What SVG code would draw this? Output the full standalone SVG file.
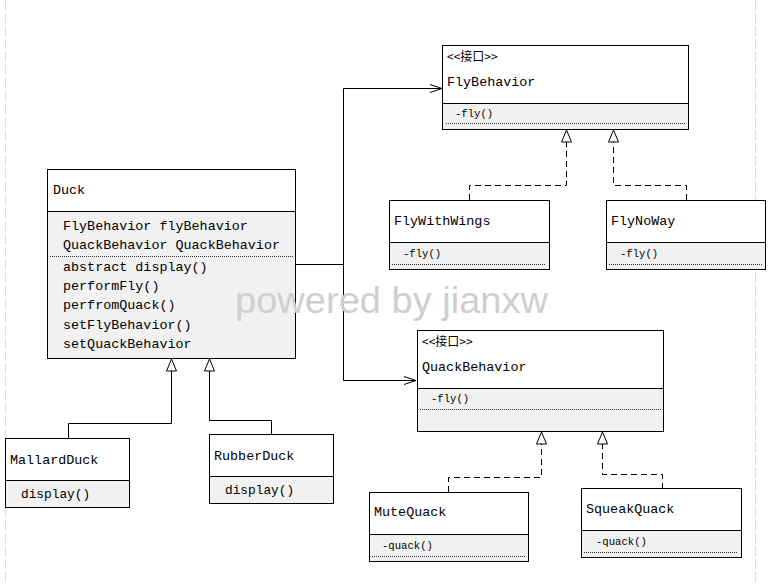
<svg xmlns="http://www.w3.org/2000/svg" width="770" height="585" viewBox="0 0 770 585">
<style>
.page{stroke:#dcdcdc;stroke-width:1;stroke-dasharray:10,3;fill:none}
.hd{fill:#ffffff;stroke:none}
.bd{fill:#f1f1f1;stroke:none}
.frame{fill:none;stroke:#000;stroke-width:1}
.sep{stroke:#000;stroke-width:1}
.dot{stroke:#333;stroke-width:1;stroke-dasharray:1,1}
.nm{font-family:"Liberation Mono",monospace;font-size:13.4px;fill:#000}
.mt{font-family:"Liberation Mono",monospace;font-size:10.6px;fill:#000}
.mb{font-family:"Liberation Mono",monospace;font-size:12.8px;fill:#000}
.st{font-family:"Noto Sans CJK SC",sans-serif;font-size:12px;fill:#000}
.ln{fill:none;stroke:#000;stroke-width:1}
.dl{fill:none;stroke:#000;stroke-width:1;stroke-dasharray:6,4}
.tri{fill:#fff;stroke:#000;stroke-width:1}
.wm{font-family:"Liberation Sans",sans-serif;font-size:36px;fill:#cfcfcf}
</style>
<defs>
<marker id="open" markerWidth="14" markerHeight="10" refX="13" refY="5" orient="auto" markerUnits="userSpaceOnUse">
<path d="M1,1 L13,5 L1,9" fill="none" stroke="#000" stroke-width="1"/>
</marker>
<marker id="tri" markerWidth="12" markerHeight="14" refX="6" refY="1" orient="auto-start-reverse" markerUnits="userSpaceOnUse">
<path d="M6,1 L11,13 L1,13 Z" class="tri"/>
</marker>
</defs>
<rect width="770" height="585" fill="#fff"/>
<line class="page" x1="5.5" y1="0" x2="5.5" y2="585"/>
<line class="page" x1="755.5" y1="0" x2="755.5" y2="585"/>

<g id="connectors">
<polyline class="ln" points="295,264.5 343.5,264.5"/>
<polyline class="ln" points="343.5,264.5 343.5,88.5 442,88.5" marker-end="url(#open)"/>
<polyline class="ln" points="343.5,264.5 343.5,380.5 416,380.5" marker-end="url(#open)"/>
<polyline class="ln" points="68.5,438 68.5,423.5 171.5,423.5 171.5,371"/>
<path class="tri" d="M171.5,359 L176.5,371 L166.5,371 Z"/>
<polyline class="ln" points="271.5,434 271.5,420.5 209.5,420.5 209.5,371"/>
<path class="tri" d="M209.5,359 L214.5,371 L204.5,371 Z"/>
<polyline class="dl" points="469.5,200 469.5,185.5 566.5,185.5 566.5,142"/>
<path class="tri" d="M566.5,130 L571.5,142 L561.5,142 Z"/>
<polyline class="dl" points="686.5,200 686.5,185.5 613.5,185.5 613.5,142"/>
<path class="tri" d="M613.5,130 L618.5,142 L608.5,142 Z"/>
<polyline class="dl" points="448.5,492 448.5,477.5 541.5,477.5 541.5,444"/>
<path class="tri" d="M541.5,432 L546.5,444 L536.5,444 Z"/>
<polyline class="dl" points="662.5,489 662.5,474.5 602.5,474.5 602.5,444"/>
<path class="tri" d="M602.5,432 L607.5,444 L597.5,444 Z"/>
</g>

<g id="FlyBehavior">
<rect class="hd" x="442.5" y="45.5" width="246" height="58"/>
<rect class="bd" x="442.5" y="103.5" width="246" height="26"/>
<rect class="frame" x="442.5" y="45.5" width="246" height="84"/>
<line class="sep" x1="442.5" y1="103.5" x2="688.5" y2="103.5"/>
<line class="dot" x1="446" y1="123.5" x2="686" y2="123.5"/>
<text class="st" x="447" y="61">&lt;&lt;接口&gt;&gt;</text>
<text class="nm" x="447" y="86">FlyBehavior</text>
<text class="mt" x="455" y="117">-fly()</text>
</g>

<g id="Duck">
<rect class="hd" x="47.5" y="169.5" width="248" height="42"/>
<rect class="bd" x="47.5" y="211.5" width="248" height="147"/>
<rect class="frame" x="47.5" y="169.5" width="248" height="189"/>
<line class="sep" x1="47.5" y1="211.5" x2="295.5" y2="211.5"/>
<line class="dot" x1="50" y1="256.5" x2="293" y2="256.5"/>
<text class="nm" x="53" y="194">Duck</text>
<text class="nm" x="63" y="230">FlyBehavior flyBehavior</text>
<text class="nm" x="63" y="249">QuackBehavior QuackBehavior</text>
<text class="nm" x="63" y="271">abstract display()</text>
<text class="nm" x="63" y="290">performFly()</text>
<text class="nm" x="63" y="309">perfromQuack()</text>
<text class="nm" x="63" y="329">setFlyBehavior()</text>
<text class="nm" x="63" y="348">setQuackBehavior</text>
</g>

<g id="FlyWithWings">
<rect class="hd" x="389.5" y="200.5" width="160" height="42"/>
<rect class="bd" x="389.5" y="242.5" width="160" height="27"/>
<rect class="frame" x="389.5" y="200.5" width="160" height="69"/>
<line class="sep" x1="389.5" y1="242.5" x2="549.5" y2="242.5"/>
<line class="dot" x1="392" y1="264.5" x2="546" y2="264.5"/>
<text class="nm" x="394" y="225">FlyWithWings</text>
<text class="mt" x="403" y="257">-fly()</text>
</g>

<g id="FlyNoWay">
<rect class="hd" x="606.5" y="200.5" width="159" height="42"/>
<rect class="bd" x="606.5" y="242.5" width="159" height="27"/>
<rect class="frame" x="606.5" y="200.5" width="159" height="69"/>
<line class="sep" x1="606.5" y1="242.5" x2="765.5" y2="242.5"/>
<line class="dot" x1="609" y1="264.5" x2="763" y2="264.5"/>
<text class="nm" x="611" y="225">FlyNoWay</text>
<text class="mt" x="620" y="257">-fly()</text>
</g>

<g id="QuackBehavior">
<rect class="hd" x="417.5" y="330.5" width="246" height="58"/>
<rect class="bd" x="417.5" y="388.5" width="246" height="43"/>
<rect class="frame" x="417.5" y="330.5" width="246" height="101"/>
<line class="sep" x1="417.5" y1="388.5" x2="663.5" y2="388.5"/>
<line class="dot" x1="420" y1="409.5" x2="661" y2="409.5"/>
<text class="st" x="422" y="346">&lt;&lt;接口&gt;&gt;</text>
<text class="nm" x="422" y="371">QuackBehavior</text>
<text class="mt" x="431" y="402">-fly()</text>
</g>

<g id="MallardDuck">
<rect class="hd" x="5.5" y="438.5" width="124" height="42"/>
<rect class="bd" x="5.5" y="480.5" width="124" height="27"/>
<rect class="frame" x="5.5" y="438.5" width="124" height="69"/>
<line class="sep" x1="5.5" y1="480.5" x2="129.5" y2="480.5"/>
<text class="nm" x="10" y="464">MallardDuck</text>
<text class="mb" x="21" y="498">display()</text>
</g>

<g id="RubberDuck">
<rect class="hd" x="209.5" y="434.5" width="124" height="42"/>
<rect class="bd" x="209.5" y="476.5" width="124" height="27"/>
<rect class="frame" x="209.5" y="434.5" width="124" height="69"/>
<line class="sep" x1="209.5" y1="476.5" x2="333.5" y2="476.5"/>
<text class="nm" x="214" y="460">RubberDuck</text>
<text class="mb" x="225" y="494">display()</text>
</g>

<g id="MuteQuack">
<rect class="hd" x="369.5" y="492.5" width="159" height="42"/>
<rect class="bd" x="369.5" y="534.5" width="159" height="27"/>
<rect class="frame" x="369.5" y="492.5" width="159" height="69"/>
<line class="sep" x1="369.5" y1="534.5" x2="528.5" y2="534.5"/>
<line class="dot" x1="372" y1="556.5" x2="525" y2="556.5"/>
<text class="nm" x="374" y="516">MuteQuack</text>
<text class="mt" x="382" y="549">-quack()</text>
</g>

<g id="SqueakQuack">
<rect class="hd" x="581.5" y="488.5" width="160" height="42"/>
<rect class="bd" x="581.5" y="530.5" width="160" height="27"/>
<rect class="frame" x="581.5" y="488.5" width="160" height="69"/>
<line class="sep" x1="581.5" y1="530.5" x2="741.5" y2="530.5"/>
<line class="dot" x1="584" y1="552.5" x2="738" y2="552.5"/>
<text class="nm" x="586" y="513">SqueakQuack</text>
<text class="mt" x="596" y="545">-quack()</text>
</g>

<text class="wm" x="235" y="313" textLength="313" lengthAdjust="spacingAndGlyphs">powered by jianxw</text>
</svg>
